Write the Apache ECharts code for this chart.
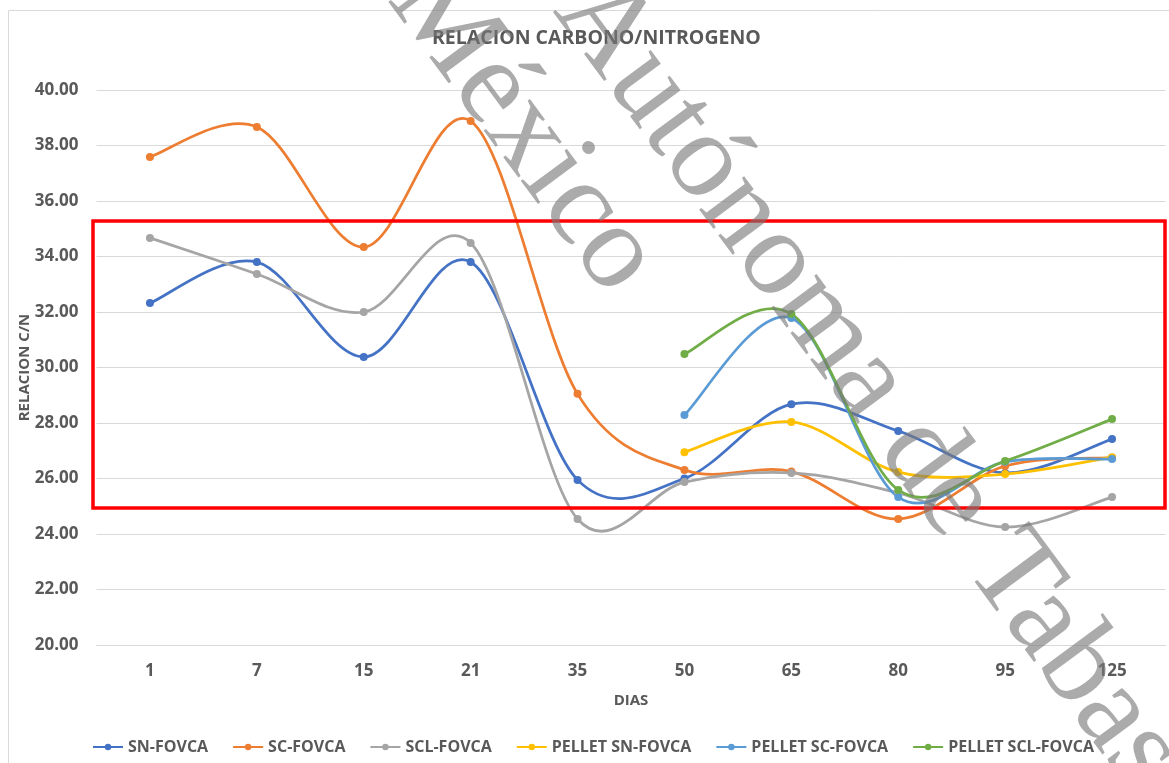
<!DOCTYPE html>
<html>
<head>
<meta charset="utf-8">
<script src="https://cdn.jsdelivr.net/npm/echarts@6/dist/echarts.min.js"></script>
<style>
  html, body { margin: 0; padding: 0; background: #fff; }
  #chart { width: 1169px; height: 763px; }
</style>
</head>
<body>
<div id="chart"></div>
<script>
const dias = ['1', '7', '15', '21', '35', '50', '65', '80', '95', '125']
const snFovca = [32.32, 33.8, 30.38, 33.8, 25.95, 26.0, 28.68, 27.71, 26.2, 27.42]
const scFovca = [37.59, 38.67, 34.34, 38.88, 29.05, 26.31, 26.25, 24.54, 26.45, 26.75]
const sclFovca = [34.67, 33.37, 32.0, 34.49, 24.54, 25.87, 26.2, 25.48, 24.25, 25.33]
const pelletSnFovca = [null, null, null, null, null, 26.95, 28.04, 26.23, 26.16, 26.77]
const pelletScFovca = [null, null, null, null, null, 28.29, 31.78, 25.33, 26.6, 26.7]
const pelletSclFovca = [null, null, null, null, null, 30.49, 31.93, 25.59, 26.63, 28.14]
const yTicks = { min: 20, max: 40, step: 2 }
// highlighted band (red box)
const boxTop = 35.28
const boxBottom = 24.94

const font = '"Open Sans", "Noto Sans", sans-serif'
const grey = '#595959'
const lineW = 2.75

// markers + legend entry (line itself hidden, curve drawn by the custom series)
const mkPoints = (name, data, color) => ({
  name: name,
  type: 'line',
  data: data,
  z: 3,
  symbol: 'circle',
  symbolSize: 8,
  lineStyle: { width: lineW, color: color, opacity: 0 },
  itemStyle: { color: color },
  emphasis: { disabled: true }
})

// Excel-like smoothed curve: catmull-rom -> bezier through api.coord points
const mkCurve = (name, data, color) => ({
  name: name,
  type: 'custom',
  coordinateSystem: 'cartesian2d',
  z: 2,
  silent: true,
  data: [[data.findIndex(v => v != null), data.find(v => v != null)]],
  renderItem: (params, api) => {
    const pts = []
    data.forEach((v, i) => {
      if (v != null) pts.push(api.coord([i, v]))
    })
    const children = []
    for (let i = 0; i < pts.length - 1; i++) {
      const p0 = pts[i - 1] || pts[i]
      const p1 = pts[i]
      const p2 = pts[i + 1]
      const p3 = pts[i + 2] || pts[i + 1]
      children.push({
        type: 'bezierCurve',
        shape: {
          x1: p1[0], y1: p1[1],
          cpx1: p1[0] + (p2[0] - p0[0]) / 6, cpy1: p1[1] + (p2[1] - p0[1]) / 6,
          cpx2: p2[0] - (p3[0] - p1[0]) / 6, cpy2: p2[1] - (p3[1] - p1[1]) / 6,
          x2: p2[0], y2: p2[1]
        },
        style: { stroke: color, lineWidth: lineW, fill: null, lineCap: 'round' }
      })
    }
    return { type: 'group', children: children }
  }
})

const seriesDefs = [
  ['SN-FOVCA', snFovca, '#4472C4'],
  ['SC-FOVCA', scFovca, '#ED7D31'],
  ['SCL-FOVCA', sclFovca, '#A5A5A5'],
  ['PELLET SN-FOVCA', pelletSnFovca, '#FFC000'],
  ['PELLET SC-FOVCA', pelletScFovca, '#5B9BD5'],
  ['PELLET SCL-FOVCA', pelletSclFovca, '#70AD47']
]

const myChart = echarts.init(document.getElementById('chart'))
const option = {
  animation: false,
  title: {
    text: 'RELACION CARBONO/NITROGENO',
    left: 427,
    top: 23,
    textStyle: { fontFamily: font, fontSize: 19.5, fontWeight: 'bold', color: grey }
  },
  legend: {
    data: seriesDefs.map(d => d[0]),
    left: 87,
    top: 734,
    itemWidth: 30,
    itemHeight: 8,
    itemGap: 24,
    lineStyle: { opacity: 1 },
    textStyle: { fontFamily: font, fontSize: 16, fontWeight: 'bold', color: grey }
  },
  grid: { left: 96.5, right: 3.5, top: 90, bottom: 118 },
  xAxis: {
    type: 'category',
    data: dias,
    boundaryGap: true,
    name: 'DIAS',
    nameLocation: 'middle',
    nameGap: 48,
    nameMoveOverlap: false,
    nameTextStyle: { fontFamily: font, fontSize: 15, fontWeight: 'bold', color: grey },
    axisLine: { lineStyle: { color: '#d9d9d9' } },
    axisTick: { show: false },
    axisLabel: { fontFamily: font, fontSize: 17, fontWeight: 'bold', color: grey, margin: 18 }
  },
  yAxis: {
    type: 'value',
    min: yTicks.min,
    max: yTicks.max,
    interval: yTicks.step,
    name: 'RELACION C/N',
    nameLocation: 'middle',
    nameGap: 64,
    nameMoveOverlap: false,
    nameTextStyle: { fontFamily: font, fontSize: 15, fontWeight: 'bold', color: grey },
    axisLine: { show: false },
    axisTick: { show: false },
    splitLine: { lineStyle: { color: '#d9d9d9', width: 1 } },
    axisLabel: {
      fontFamily: font, fontSize: 17, fontWeight: 'bold', color: grey, margin: 18,
      formatter: v => v.toFixed(2)
    }
  },
  series: seriesDefs.map(d => mkPoints(d[0], d[1], d[2]))
    .concat(seriesDefs.map(d => mkCurve(d[0], d[1], d[2])))
}
myChart.setOption(option)

// red box + frame + watermark, placed after axes exist
const yTop = myChart.convertToPixel({ yAxisIndex: 0 }, boxTop)
const yBot = myChart.convertToPixel({ yAxisIndex: 0 }, boxBottom)
const rot = -53.5 * Math.PI / 180
const wmStyle = {
  fontFamily: '"Liberation Serif", "DejaVu Serif", serif',
  fontSize: 122,
  fill: 'rgba(120,120,120,0.62)',
  textAlign: 'left',
  textVerticalAlign: 'middle'
}
myChart.setOption({
  graphic: [
    {
      type: 'rect', z: -1, silent: true,
      shape: { x: 8.5, y: 10.5, width: 1180, height: 780 },
      style: { fill: 'none', stroke: '#d9d9d9', lineWidth: 1 }
    },
    {
      type: 'rect', z: 50, silent: true,
      shape: { x: 93, y: yTop, width: 1072, height: yBot - yTop },
      style: { fill: 'none', stroke: '#ff0000', lineWidth: 3.5 }
    },
    {
      type: 'text', z: 100, silent: true,
      x: 578, y: -8, rotation: rot,
      style: Object.assign({ text: 'Autónoma de Tabasco' }, wmStyle)
    },
    {
      type: 'text', z: 100, silent: true,
      x: 412, y: -20, rotation: rot,
      style: Object.assign({ text: 'México' }, wmStyle)
    }
  ]
})

window.addEventListener('resize', () => myChart.resize())
</script>
</body>
</html>
